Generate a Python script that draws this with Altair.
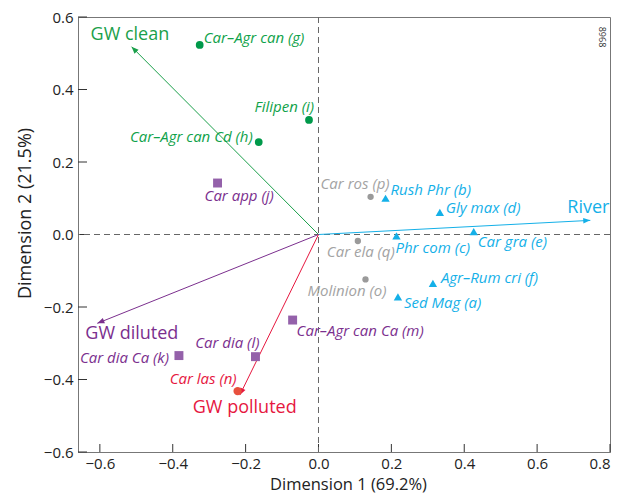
import math
import altair as alt
import pandas as pd

# ---- data ----
names = ["Car\u2013Agr can (g)", "Filipen (i)", "Car\u2013Agr can Cd (h)",
         "Car app (j)", "Car\u2013Agr can Ca (m)", "Car dia Ca (k)", "Car dia (l)",
         "Car las (n)",
         "Car ros (p)", "Car ela (q)", "Molinion (o)",
         "Rush Phr (b)", "Gly max (d)", "Phr com (c)", "Car gra (e)",
         "Agr\u2013Rum cri (f)", "Sed Mag (a)"]
dim1 = [-0.326, -0.026, -0.164,
        -0.277, -0.071, -0.383, -0.173,
        -0.222,
        0.143, 0.108, 0.129,
        0.184, 0.333, 0.214, 0.426, 0.314, 0.218]
dim2 = [0.523, 0.316, 0.255,
        0.142, -0.236, -0.334, -0.337,
        -0.432,
        0.104, -0.018, -0.124,
        0.100, 0.061, -0.004, 0.008, -0.135, -0.172]
groups = ["clean"] * 3 + ["diluted"] * 4 + ["polluted"] + ["other"] * 3 + ["river"] * 6

vec_names = ["GW clean", "River", "GW diluted", "GW polluted"]
vec_d1 = [-0.513, 0.746, -0.607, -0.216]
vec_d2 = [0.518, 0.039, -0.245, -0.443]
vec_groups = ["clean", "river", "diluted", "polluted"]

x_ticks = [-0.6, -0.4, -0.2, 0.0, 0.2, 0.4, 0.6, 0.8]
y_ticks = [-0.6, -0.4, -0.2, 0.0, 0.2, 0.4, 0.6]

# ---- styles ----
FONT = "Open Sans"
W, H = 532, 435
pt_color = {"clean": "#00994a", "diluted": "#9461aa", "polluted": "#e8503e",
            "other": "#9a9a9a", "river": "#14b0e8"}
txt_color = {"clean": "#0fa24a", "diluted": "#7b2f8e", "polluted": "#e6173f",
             "other": "#a3a3a3", "river": "#14b0e8"}
arrow_color = {"clean": "#1a9f4a", "diluted": "#7b2f8e", "polluted": "#e6173f",
               "river": "#14b0e8"}
shape_of = {"clean": "circle", "diluted": "square", "polluted": "circle",
            "other": "circle", "river": "triangle-up"}
size_of = {"clean": 60, "diluted": 80, "polluted": 70, "other": 40, "river": 70}

# label placement (align, dx, dy) in pixels
label_pos = {
    "Car\u2013Agr can (g)": ("left", 4, -7),
    "Filipen (i)": ("right", 5, -13),
    "Car\u2013Agr can Cd (h)": ("right", -6, -5),
    "Car app (j)": ("left", -13, 13),
    "Car\u2013Agr can Ca (m)": ("left", 4, 11),
    "Car dia Ca (k)": ("right", -10, 2),
    "Car dia (l)": ("right", 4, -14),
    "Car las (n)": ("right", -1, -12),
    "Car ros (p)": ("right", 19, -13),
    "Car ela (q)": ("left", -31, 11),
    "Molinion (o)": ("right", 21, 12),
    "Rush Phr (b)": ("left", 5, -8),
    "Gly max (d)": ("left", 6, -4),
    "Phr com (c)": ("left", -1, 12),
    "Car gra (e)": ("left", 4, 10),
    "Agr\u2013Rum cri (f)": ("left", 8, -5),
    "Sed Mag (a)": ("left", 6, 6),
}
vec_label_pos = {
    "GW clean": ("left", -41, -12),
    "River": ("left", -23, -12),
    "GW diluted": ("left", -12, 11),
    "GW polluted": ("left", -47, 13),
}

pts = pd.DataFrame({"name": names, "d1": dim1, "d2": dim2, "group": groups})
vecs = pd.DataFrame({"name": vec_names, "d1": vec_d1, "d2": vec_d2, "group": vec_groups,
                     "o1": [0.0] * 4, "o2": [0.0] * 4})
vecs["angle"] = [(math.degrees(math.atan2(a, b)) + 360) % 360 for a, b in zip(vec_d1, vec_d2)]

xs = alt.Scale(domain=[-0.66, 0.8], nice=False, zero=False)
ys = alt.Scale(domain=[-0.6, 0.6], nice=False, zero=False)

X = alt.X("d1:Q", scale=xs, axis=alt.Axis(
    values=x_ticks, format=".1f", title="Dimension 1 (69.2%)", tickSize=0,
    labelPadding=4, titleX=W / 2 + 4, titleY=32, titleBaseline="middle",
    titleFontSize=16.5))
Y = alt.Y("d2:Q", scale=ys, axis=alt.Axis(
    values=y_ticks, format=".1f", title="Dimension 2 (21.5%)", tickSize=0,
    labelPadding=5, titleX=-53, titleY=196, titleBaseline="middle", titleAngle=-90))

base_x = alt.X("d1:Q", scale=xs)
base_y = alt.Y("d2:Q", scale=ys)

layers = []

# inner ticks
xt = pd.DataFrame({"d1": x_ticks})
yt = pd.DataFrame({"d2": y_ticks})
layers.append(alt.Chart(xt).mark_rule(color="#333", strokeWidth=1).encode(
    x=X, y=alt.value(H - 8), y2=alt.value(H)))
layers.append(alt.Chart(yt).mark_rule(color="#333", strokeWidth=1).encode(
    y=Y, x=alt.value(0), x2=alt.value(9)))

# zero reference lines
zero = pd.DataFrame({"d1": [0.0], "d2": [0.0]})
layers.append(alt.Chart(zero).mark_rule(color="#666", strokeDash=[6, 4], strokeWidth=1).encode(
    x=base_x))
layers.append(alt.Chart(zero).mark_rule(color="#666", strokeDash=[6, 4], strokeWidth=1).encode(
    y=base_y))

# vectors
head_path = "M0,0 L-0.4,1 L0.4,1 Z"
for g in vec_groups:
    sub = vecs[vecs.group == g]
    c = arrow_color[g]
    layers.append(alt.Chart(sub).mark_rule(color=c, strokeWidth=1).encode(
        x=alt.X("o1:Q", scale=xs), y=alt.Y("o2:Q", scale=ys),
        x2="d1:Q", y2="d2:Q"))
    layers.append(alt.Chart(sub).mark_point(shape=head_path, filled=True, color=c,
                                            size=200, opacity=1, strokeWidth=0).encode(
        x=base_x, y=base_y, angle=alt.Angle("angle:Q", scale=None)))
    al, dx, dy = vec_label_pos[sub.name.iloc[0]]
    layers.append(alt.Chart(sub).mark_text(
        align=al, baseline="middle", dx=dx, dy=dy, font=FONT, fontSize=18,
        fontWeight=500, color=c).encode(x=base_x, y=base_y, text="name:N"))

# points
for g in ["clean", "diluted", "polluted", "other", "river"]:
    sub = pts[pts.group == g]
    layers.append(alt.Chart(sub).mark_point(
        shape=shape_of[g], filled=True, size=size_of[g], opacity=1,
        color=pt_color[g]).encode(x=base_x, y=base_y))

# point labels
for i, nm in enumerate(names):
    sub = pts.iloc[[i]]
    al, dx, dy = label_pos[nm]
    layers.append(alt.Chart(sub).mark_text(
        align=al, baseline="middle", dx=dx, dy=dy, font=FONT, fontSize=15,
        fontStyle="italic", color=txt_color[groups[i]]).encode(
        x=base_x, y=base_y, text="name:N"))

# main axes carrier (invisible points)
layers.append(alt.Chart(pts).mark_point(opacity=0).encode(x=X, y=Y))

# id annotation
ann = pd.DataFrame({"t": ["8968"]})
layers.append(alt.Chart(ann).mark_text(
    angle=90, font=FONT, fontSize=9, color="#333", align="center",
    baseline="middle").encode(x=alt.value(W - 8), y=alt.value(20), text="t:N"))

chart = alt.layer(*layers).properties(
    width=W, height=H,
    autosize=alt.AutoSizeParams(type="none"),
    padding={"left": 70, "top": 9, "right": 3, "bottom": 42},
).configure_view(
    stroke="#777", strokeWidth=1
).configure_axis(
    domainColor="#777", labelFont=FONT, titleFont=FONT, labelFontSize=15,
    titleFontSize=18, labelColor="#222", titleColor="#222", grid=False,
    titleFontWeight="normal"
)

chart.save("out.html", embed_options={"renderer": "svg", "actions": False})
